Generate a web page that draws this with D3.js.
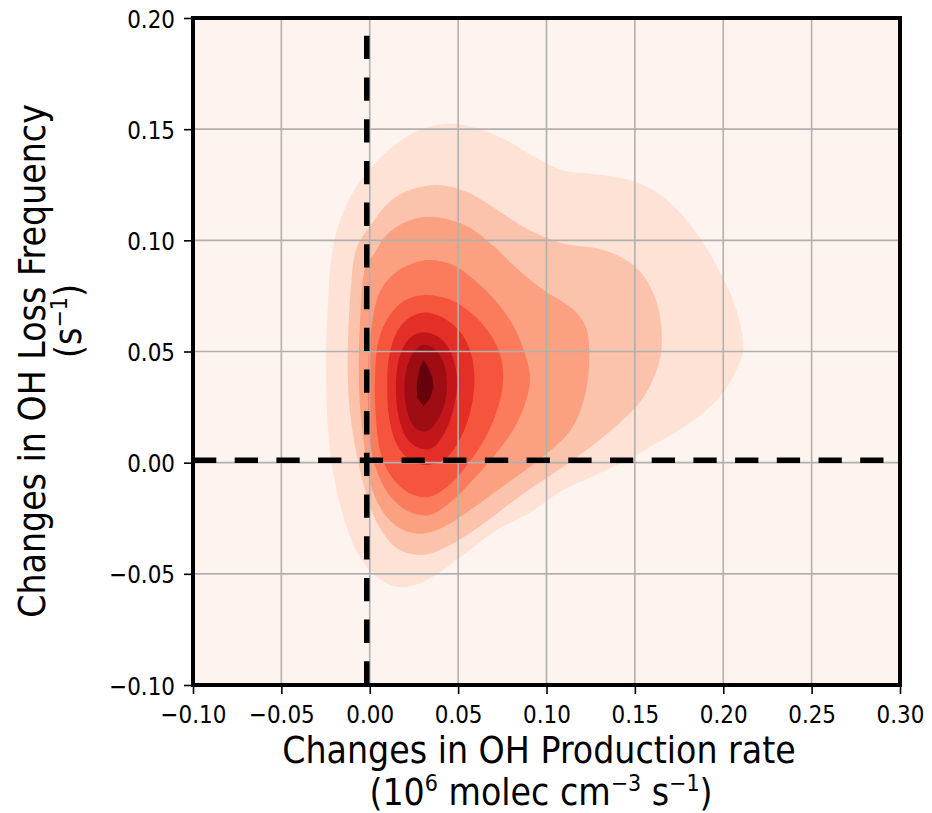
<!DOCTYPE html>
<html>
<head>
<meta charset="utf-8">
<script src="https://cdn.jsdelivr.net/npm/d3@7"></script>
<style>
  body { margin: 0; background: #fff; }
  text { font-family: "DejaVu Sans", sans-serif; fill: #000; }
</style>
</head>
<body>
<svg id="chart" width="932" height="813"></svg>
<script>
// axis ticks
const xTicks = [-0.10, -0.05, 0.00, 0.05, 0.10, 0.15, 0.20, 0.25, 0.30];
const yTicks = [-0.10, -0.05, 0.00, 0.05, 0.10, 0.15, 0.20];

// kde contour bands, outermost first as [x, y]
const level1 = [[0.045,0.1525],[0.064,0.1495],[0.079,0.1443],[0.092,0.138],[0.109,0.1315],[0.128,0.1297],[0.147,0.1271],[0.162,0.1219],[0.175,0.1129],[0.187,0.1009],[0.196,0.0889],[0.2036,0.0769],[0.2093,0.0634],[0.2112,0.050],[0.2074,0.0417],[0.1998,0.0312],[0.1885,0.0222],[0.1753,0.0147],[0.1622,0.0087],[0.149,0.0027],[0.128,-0.0055],[0.109,-0.0125],[0.0905,-0.0225],[0.0717,-0.0303],[0.0566,-0.0393],[0.0415,-0.0483],[0.0283,-0.0543],[0.0151,-0.0558],[0.0038,-0.0513],[-0.0057,-0.0423],[-0.0132,-0.0288],[-0.0188,-0.0123],[-0.0226,0.0057],[-0.0245,0.0282],[-0.0248,0.0507],[-0.0236,0.0724],[-0.0222,0.0889],[-0.0188,0.1039],[-0.0132,0.1159],[-0.0057,0.1263],[0.0038,0.1353],[0.0151,0.1436],[0.0283,0.1496]];
const level2 = [[0.0377,0.1249],[0.0547,0.1219],[0.0679,0.1159],[0.0792,0.1099],[0.0905,0.1045],[0.1093,0.0986],[0.1282,0.0964],[0.1433,0.0919],[0.1546,0.0844],[0.1622,0.0724],[0.165,0.0604],[0.1645,0.048],[0.160,0.037],[0.153,0.0274],[0.135,0.0134],[0.1117,-0.0006],[0.0857,-0.0146],[0.0623,-0.0286],[0.0442,-0.0376],[0.030,-0.0415],[0.0156,-0.0386],[0.0052,-0.0286],[-0.0026,-0.0126],[-0.0083,0.0074],[-0.0117,0.027],[-0.0125,0.047],[-0.0117,0.0664],[-0.0104,0.0814],[-0.0075,0.0964],[0.0019,0.1084],[0.0113,0.1174],[0.0226,0.1226]];
const level3 = [[0.0345,0.1106],[0.0545,0.1066],[0.0701,0.0974],[0.0831,0.0874],[0.0987,0.0774],[0.1143,0.0694],[0.1221,0.0614],[0.1242,0.0494],[0.1221,0.0314],[0.1143,0.0154],[0.0961,0.0014],[0.0753,-0.0106],[0.0545,-0.0226],[0.0416,-0.029],[0.0286,-0.032],[0.0182,-0.030],[0.0078,-0.0226],[0.0,-0.0086],[-0.0031,0.0074],[-0.0057,0.0274],[-0.0062,0.0474],[-0.0052,0.0674],[-0.0026,0.0874],[0.0028,0.0944],[0.0094,0.1024],[0.0207,0.1084]];
const level4 = [[0.0321,0.0911],[0.0471,0.0889],[0.0603,0.0814],[0.0717,0.0724],[0.081,0.0619],[0.0867,0.0514],[0.0905,0.040],[0.0896,0.0314],[0.0831,0.0174],[0.0727,0.0054],[0.0597,-0.0066],[0.0468,-0.017],[0.034,-0.0235],[0.022,-0.022],[0.0115,-0.015],[0.004,-0.004],[0.0,0.01],[-0.001,0.03],[-0.0005,0.05],[0.001,0.0614],[0.0057,0.0769],[0.0151,0.0859]];
const level5 = [[0.031,0.0754],[0.045,0.0735],[0.058,0.067],[0.068,0.058],[0.074,0.048],[0.0755,0.038],[0.073,0.026],[0.066,0.012],[0.056,0.0],[0.045,-0.010],[0.033,-0.0155],[0.022,-0.0135],[0.012,-0.006],[0.006,0.005],[0.0035,0.02],[0.003,0.038],[0.005,0.055],[0.011,0.066],[0.020,0.073]];
const level6 = [[0.031,0.0675],[0.042,0.065],[0.051,0.059],[0.057,0.050],[0.0592,0.038],[0.0575,0.025],[0.052,0.012],[0.043,0.002],[0.033,-0.001],[0.023,0.001],[0.0155,0.008],[0.011,0.02],[0.0099,0.035],[0.011,0.048],[0.0155,0.059],[0.022,0.065]];
const level7 = [[0.031,0.0585],[0.039,0.0565],[0.045,0.051],[0.0485,0.043],[0.0494,0.034],[0.047,0.023],[0.042,0.013],[0.035,0.0065],[0.028,0.0065],[0.021,0.011],[0.0165,0.020],[0.0148,0.032],[0.0158,0.044],[0.019,0.052],[0.024,0.057]];
const level8 = [[0.031,0.053],[0.037,0.051],[0.0415,0.0455],[0.0436,0.037],[0.0425,0.027],[0.038,0.0185],[0.032,0.014],[0.026,0.0155],[0.0215,0.022],[0.0198,0.031],[0.0205,0.041],[0.0235,0.048],[0.027,0.0515]];
const level9 = [[0.0305,0.0462],[0.033,0.043],[0.0355,0.038],[0.0362,0.034],[0.034,0.029],[0.0305,0.0255],[0.027,0.029],[0.0265,0.034],[0.0272,0.039],[0.0285,0.043]];
const levelColors = ["#fee2d5","#fcc3ac","#fca082","#fb7c5c","#f6553d","#e32f27","#c3161b","#9e0d14","#67000d"];

// zero reference lines
const zeroX = -0.0017;
const zeroY = 0.0011;
const zeroXTop = 0.192;

const svg = d3.select("#chart");
const x = d3.scaleLinear().domain([-0.10, 0.30]).range([193, 900]);
const y = d3.scaleLinear().domain([-0.10, 0.20]).range([685, 18]);
const squeeze = 0.9; // text is a bit narrower than plain DejaVu Sans

svg.append("rect")
    .attr("x", x(-0.10)).attr("y", y(0.20))
    .attr("width", x(0.30) - x(-0.10))
    .attr("height", y(-0.10) - y(0.20))
    .attr("fill", "#fdf4ef");

const bands = [level1, level2, level3, level4, level5, level6, level7, level8, level9];
const smooth = d3.line()
    .x(d => x(d[0])).y(d => y(d[1]))
    .curve(d3.curveCatmullRomClosed.alpha(0.5));
const sharp = d3.line()
    .x(d => x(d[0])).y(d => y(d[1]))
    .curve(d3.curveLinearClosed);

svg.append("g")
    .selectAll("path")
    .data(bands)
    .enter()
    .append("path")
        .attr("d", (d, i) => i === bands.length - 1 ? sharp(d) : smooth(d))
        .attr("fill", (d, i) => levelColors[i]);

// grid on top of the fills
const grid = svg.append("g").attr("stroke", "#b0b0b0").attr("stroke-width", 1.6);
grid.selectAll(".gx").data(xTicks).enter().append("line")
    .attr("x1", d => x(d)).attr("x2", d => x(d))
    .attr("y1", y(0.20)).attr("y2", y(-0.10));
grid.selectAll(".gy").data(yTicks).enter().append("line")
    .attr("x1", x(-0.10)).attr("x2", x(0.30))
    .attr("y1", d => y(d)).attr("y2", d => y(d));

// dashed zero lines
svg.append("line")
    .attr("x1", x(-0.10)).attr("x2", x(0.30))
    .attr("y1", y(zeroY)).attr("y2", y(zeroY))
    .attr("stroke", "#000").attr("stroke-width", 5.5)
    .attr("stroke-dasharray", "23.3 18.4");
svg.append("line")
    .attr("x1", x(zeroX)).attr("x2", x(zeroX))
    .attr("y1", y(zeroXTop)).attr("y2", y(-0.10))
    .attr("stroke", "#000").attr("stroke-width", 5.5)
    .attr("stroke-dasharray", "23.3 18.4");

// frame
svg.append("rect")
    .attr("x", x(-0.10)).attr("y", y(0.20))
    .attr("width", x(0.30) - x(-0.10))
    .attr("height", y(-0.10) - y(0.20))
    .attr("fill", "none").attr("stroke", "#000").attr("stroke-width", 4);

// axes
const fmt = d3.format(".2f");
const xAxis = svg.append("g")
    .attr("transform", `translate(0,${y(-0.10) + 2})`)
    .call(d3.axisBottom(x).tickValues(xTicks).tickFormat(fmt).tickSize(7).tickPadding(0));
const yAxis = svg.append("g")
    .attr("transform", `translate(${x(-0.10) - 2},0)`)
    .call(d3.axisLeft(y).tickValues(yTicks).tickFormat(fmt).tickSize(7).tickPadding(0));
[xAxis, yAxis].forEach(a => {
    a.select(".domain").remove();
    a.selectAll(".tick line").attr("stroke", "#000").attr("stroke-width", 1.6);
    a.selectAll(".tick text")
        .attr("font-family", "DejaVu Sans")
        .attr("font-size", 25)
        .attr("fill", "#000");
});
xAxis.selectAll(".tick text")
    .attr("y", 0).attr("dy", 0)
    .attr("transform", "translate(0,36) scale(0.86,1)");
yAxis.selectAll(".tick text")
    .attr("x", 0).attr("dy", "0.36em")
    .attr("transform", "translate(-16,0) scale(0.86,1)");

// axis titles
const xTitle = svg.append("g").attr("font-size", 37).attr("text-anchor", "middle");
xTitle.append("text")
    .attr("transform", `translate(539,763) scale(${squeeze},1)`)
    .text("Changes in OH Production rate");
const xUnit = xTitle.append("text")
    .attr("transform", `translate(541,805) scale(${squeeze},1)`);
xUnit.append("tspan").text("(10");
xUnit.append("tspan").attr("font-size", 23).attr("dy", -14).text("6");
xUnit.append("tspan").attr("dy", 14).text(" molec cm");
xUnit.append("tspan").attr("font-size", 23).attr("dy", -14).text("\u22123");
xUnit.append("tspan").attr("dy", 14).text(" s");
xUnit.append("tspan").attr("font-size", 23).attr("dy", -14).text("\u22121");
xUnit.append("tspan").attr("dy", 14).text(")");

const yTitle = svg.append("g").attr("font-size", 37).attr("text-anchor", "middle");
yTitle.append("text")
    .attr("transform", `translate(45,361) rotate(-90) scale(${squeeze},1)`)
    .text("Changes in OH Loss Frequency");
const yUnit = yTitle.append("text")
    .attr("transform", `translate(81,321) rotate(-90) scale(${squeeze},1)`);
yUnit.append("tspan").text("(s");
yUnit.append("tspan").attr("font-size", 23).attr("dy", -14).text("\u22121");
yUnit.append("tspan").attr("dy", 14).text(")");
</script>
</body>
</html>
